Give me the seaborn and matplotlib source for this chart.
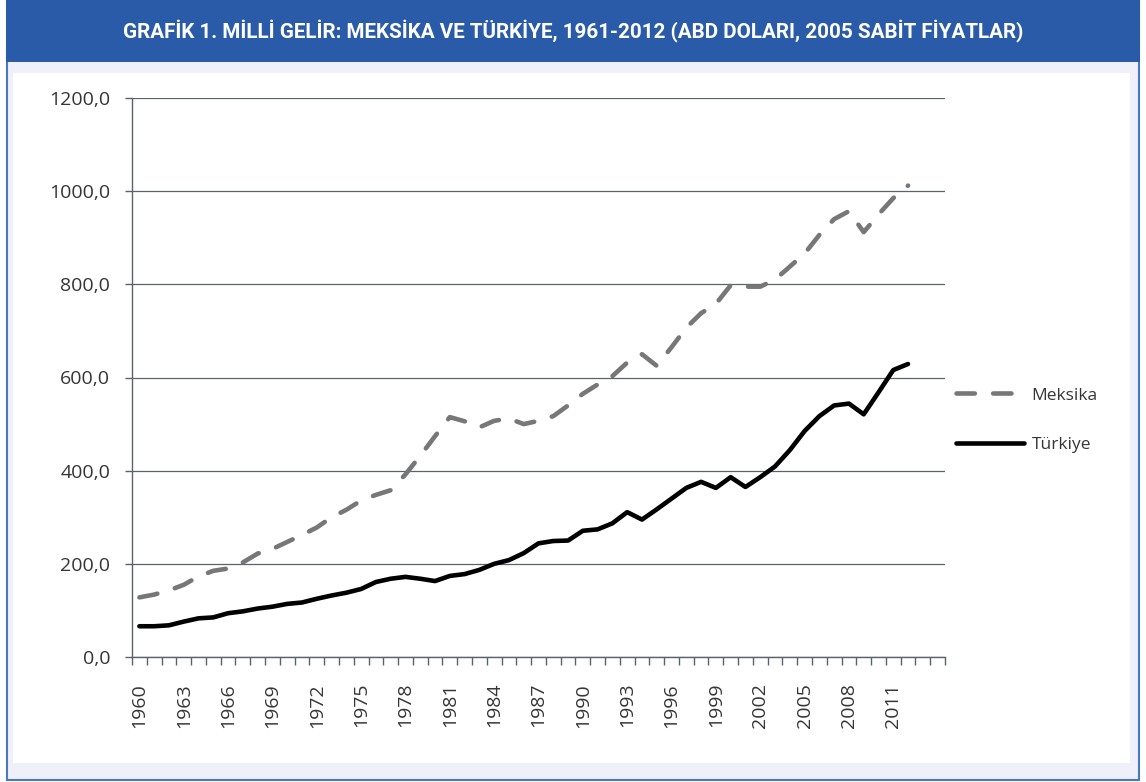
import matplotlib
matplotlib.use("Agg")
import matplotlib.pyplot as plt
from matplotlib.patches import Rectangle
import pandas as pd
import seaborn as sns

# values
years = list(range(1960, 2013))
mexico = [128, 134, 143, 155, 173, 185, 190, 203, 222, 232,
          247, 262, 278, 300, 316, 336, 348, 358, 392, 432,
          474, 515, 506, 493, 507, 512, 500, 507, 517, 540,
          565, 585, 603, 632, 650, 625, 665, 707, 738, 758,
          798, 795, 795, 810, 838, 866, 906, 940, 957, 912,
          950, 985, 1012]
turkey = [66, 66, 68, 76, 83, 85, 94, 98, 104, 108,
          114, 117, 125, 132, 138, 146, 161, 168, 172, 168,
          163, 174, 178, 187, 200, 208, 223, 244, 249, 250,
          271, 274, 287, 311, 295, 317, 340, 363, 376, 363,
          386, 365, 386, 409, 444, 485, 517, 540, 544, 521,
          568, 616, 629]
series_names = ["Meksika", "Türkiye"]
y_ticks = [0, 200, 400, 600, 800, 1000, 1200]
y_labels = ["0,0", "200,0", "400,0", "600,0", "800,0", "1000,0", "1200,0"]
x_label_years = list(range(1960, 2012, 3))
title = "GRAFİK 1. MİLLİ GELİR: MEKSİKA VE TÜRKİYE, 1961-2012 (ABD DOLARI, 2005 SABİT FİYATLAR)"

df = pd.DataFrame({"year": years, series_names[0]: mexico, series_names[1]: turkey})

sns.set_style("white")
plt.rcParams["font.family"] = ["Open Sans", "DejaVu Sans"]

W, H = 1146, 782
fig = plt.figure(figsize=(W / 100, H / 100), dpi=100)
fig.patch.set_facecolor("white")

blue = "#2a5ba8"
text_col = "#353535"
grid_col = "#5b6268"

# frame: lavender box with blue border, blue header band, white inner panel
fig.patches.append(Rectangle((7 / W, 2 / H), 1132 / W, 778 / H, transform=fig.transFigure,
                             facecolor="#eff0f9", edgecolor="#4a78c0", lw=1.5, zorder=-3))
fig.patches.append(Rectangle((6 / W, 1 - 62 / H), 1134 / W, 62 / H, transform=fig.transFigure,
                             facecolor=blue, edgecolor="none", zorder=-2))
fig.patches.append(Rectangle((13 / W, 19 / H), 1117 / W, 690 / H, transform=fig.transFigure,
                             facecolor="white", edgecolor="none", zorder=-2))

t = fig.text(573 / W, 1 - 31 / H, title, color="white", fontweight="bold",
             fontsize=16, ha="center", va="center",
             family=["Liberation Sans Narrow", "Roboto", "DejaVu Sans"])
fig.canvas.draw()
w = t.get_window_extent().width
t.set_fontsize(16 * 903 / w)

ax = fig.add_axes([132 / W, 1 - 657 / H, 813 / W, 559 / H])
ax.set_facecolor("none")

sns.lineplot(data=df, x="year", y=series_names[0], ax=ax, color="#777777", lw=3.3,
             linestyle=(0, (4, 4)), dash_capstyle="round", label=series_names[0])
sns.lineplot(data=df, x="year", y=series_names[1], ax=ax, color="black", lw=3.3,
             solid_capstyle="round", label=series_names[1])

ax.set_xlim(1959.5, 2014.5)
ax.set_ylim(0, 1200)
ax.set_yticks(y_ticks)
ax.set_yticklabels(y_labels)
ax.set_xticks(x_label_years)
ax.set_xticklabels([str(y) for y in x_label_years], rotation=90, va="top", ha="center")
ax.set_xticks([1959.5 + k for k in range(56)], minor=True)
ax.tick_params(axis="x", which="major", length=0, pad=26 / 1.389, labelsize=14, labelcolor=text_col)
ax.tick_params(axis="x", which="minor", length=8 / 1.389, width=1, color=grid_col, direction="out", bottom=True)
ax.tick_params(axis="y", length=7 / 1.389, width=1, color=grid_col, pad=15 / 1.389,
               labelsize=14, labelcolor=text_col, left=True)
ax.set_xlabel("")
ax.set_ylabel("")
ax.yaxis.grid(True, color=grid_col, lw=0.9)
ax.xaxis.grid(False)
for s in ["top", "right"]:
    ax.spines[s].set_visible(False)
for s in ["left", "bottom"]:
    ax.spines[s].set_color(grid_col)
    ax.spines[s].set_linewidth(1)

handles, labels = ax.get_legend_handles_labels()
ax.legend(handles, labels, loc="center left", bbox_to_anchor=(956 / W, 1 - 420 / H),
          bbox_transform=fig.transFigure, frameon=False, fontsize=12.5, borderpad=0,
          borderaxespad=0, handlelength=3.9, handletextpad=0.45, labelspacing=1.9,
          labelcolor=text_col)

fig.savefig("out.png", dpi=100, facecolor=fig.get_facecolor())
